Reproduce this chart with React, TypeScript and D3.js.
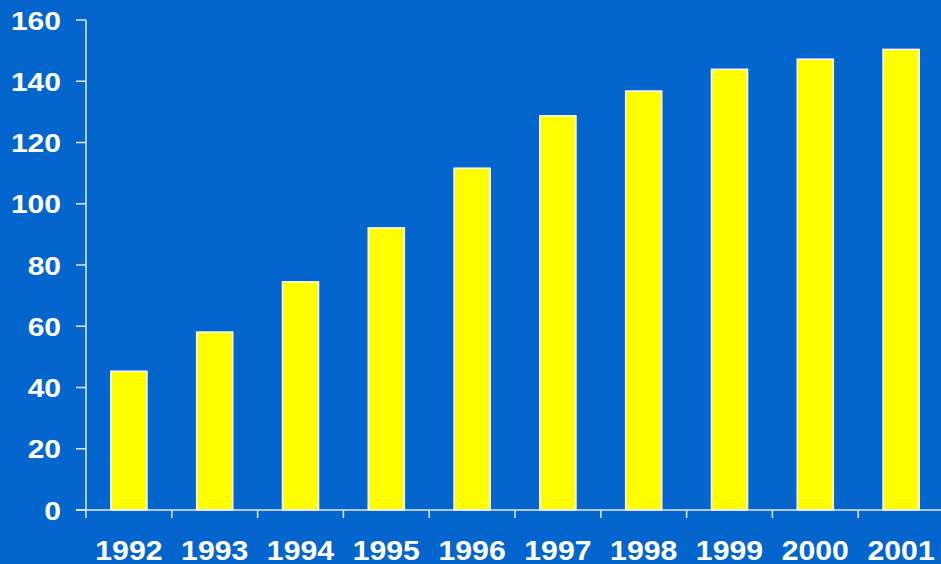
import React from "react";
import * as d3 from "d3";

const years = ["1992", "1993", "1994", "1995", "1996", "1997", "1998", "1999", "2000", "2001"];
const values = [45.3, 58.1, 74.5, 92.1, 111.6, 128.7, 136.8, 143.9, 147.2, 150.4];
const yTicks = [0, 20, 40, 60, 80, 100, 120, 140, 160];

const W = 941;
const H = 564;
const M = { left: 86, top: 20, bottom: 54 };

export default function App() {
  const x = d3.scaleBand<string>().domain(years).range([M.left, M.left + 85.8 * years.length]).paddingInner(0.58).paddingOuter(0.29);
  const xb = d3.scaleBand<string>().domain(years).range([M.left, M.left + 85.8 * years.length]);
  const y = d3.scaleLinear().domain([0, 160]).range([H - M.bottom, M.top]);
  const font = "'Liberation Sans', Arial, sans-serif";
  return (
    <svg width={W} height={H} style={{ position: "absolute", left: 0, top: 0, display: "block" }}>
      <rect x={0} y={0} width={W} height={H} fill="#0466CC" />
      {years.map((yr, i) => (
        <rect
          key={yr}
          x={x(yr)}
          y={y(values[i])}
          width={x.bandwidth()}
          height={y(0) - y(values[i])}
          fill="#FFFF00"
          stroke="#FFFFFF"
          strokeWidth={1.5}
        />
      ))}
      <line x1={M.left} x2={M.left} y1={y(160)} y2={y(0) + 8} stroke="#E8E8F0" strokeWidth={1.5} />
      <line x1={M.left - 10} x2={W} y1={y(0)} y2={y(0)} stroke="#E8E8F0" strokeWidth={1.5} />
      {yTicks.map((t) => (
        <g key={t}>
          <line x1={M.left - 10} x2={M.left} y1={y(t)} y2={y(t)} stroke="#E8E8F0" strokeWidth={1.5} />
          <text
            transform={`translate(61,${y(t) + 9.5}) scale(1.2,1)`}
            textAnchor="end"
            fill="#FFFFFF"
            fontFamily={font}
            fontWeight="bold"
            fontSize={25}
          >
            {t}
          </text>
        </g>
      ))}
      {years.map((yr) => (
        <line
          key={"t" + yr}
          x1={(xb(yr) as number) + xb.bandwidth()}
          x2={(xb(yr) as number) + xb.bandwidth()}
          y1={y(0)}
          y2={y(0) + 8}
          stroke="#E8E8F0"
          strokeWidth={1.5}
        />
      ))}
      {years.map((yr) => (
        <text
          key={"l" + yr}
          transform={`translate(${(xb(yr) as number) + xb.bandwidth() / 2},560) scale(1.12,1)`}
          textAnchor="middle"
          fill="#FFFFFF"
          fontFamily={font}
          fontWeight="bold"
          fontSize={27}
        >
          {yr}
        </text>
      ))}
    </svg>
  );
}
